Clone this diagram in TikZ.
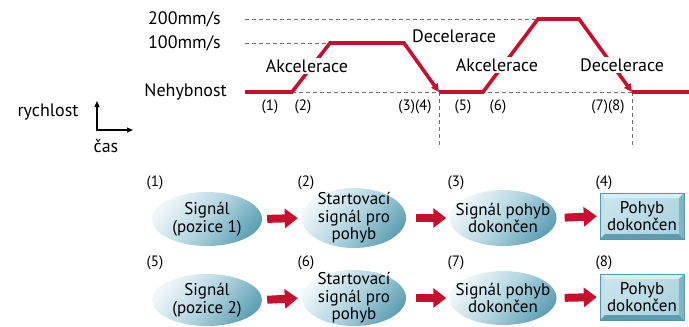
\documentclass[tikz,border=0pt]{standalone}
\usepackage{fontspec}
\setmainfont{PT Sans}
\usetikzlibrary{shapes.geometric,arrows.meta}
\definecolor{cred}{HTML}{C8102E}
\definecolor{cgray}{HTML}{707070}
\definecolor{elight}{HTML}{F0F7FA}
\definecolor{emid}{HTML}{B3D5E0}
\definecolor{edark}{HTML}{5FA1B5}
\definecolor{rface}{HTML}{ABD3DF}
\definecolor{rfacel}{HTML}{C9E4EC}
\definecolor{rtop}{HTML}{D9EDF3}
\definecolor{rleft}{HTML}{C2E0E9}
\definecolor{rbot}{HTML}{5D9DB1}
\definecolor{rright}{HTML}{7DB5C6}
\definecolor{rline}{HTML}{5A95A8}
\tikzset{
  guide/.style={cgray, line width=0.8pt, dash pattern=on 4pt off 3pt},
  speed/.style={cred, line width=3.6pt, line join=miter, -{Triangle[length=8pt,width=7.5pt]}},
  speedplain/.style={cred, line width=3.6pt, line join=miter},
  lbl/.style={fill=white, inner sep=1.5pt},
  num/.style={inner sep=1pt, font=\fontsize{15}{17}\selectfont},
  oval/.style={ellipse, inner sep=0pt, top color=elight, bottom color=edark, middle color=emid, shading angle=50},
  ovaltext/.style={align=center, inner sep=0pt, font=\fontsize{17}{17.5}\selectfont},
  rbox/.style={rectangle, inner sep=0pt, minimum width=84pt, minimum height=46pt, top color=rfacel, bottom color=rface, shading angle=40},
  blockarr/.style={cred, line width=8pt, -{Triangle[length=13pt,width=19pt]}},
  axisline/.style={black, line width=1.2pt},
}
\begin{document}
\begin{tikzpicture}[x=1pt,y=-1pt, font=\fontsize{18}{20}\selectfont]
\useasboundingbox (0,0) rectangle (689,327);

% key points of the speed profile
\coordinate (a0) at (245,92);
\coordinate (a1) at (292,92);
\coordinate (a2) at (330,43);
\coordinate (a3) at (404,43);
\coordinate (a4) at (439,92);
\coordinate (a5) at (483,92);
\coordinate (a6) at (538,19);
\coordinate (a7) at (579,19);
\coordinate (a8) at (632,92);
\coordinate (a9) at (689,92);
\coordinate (h2) at (245,19);
\coordinate (h1) at (245,43);
\coordinate (v4) at (439,148);
\coordinate (v8) at (632,148);

% guides
\draw[guide] (h2) -- (a6);
\draw[guide] (h1) -- (a2);
\draw[guide] (a1) -- (a8);
\draw[guide] (a4) -- (v4);
\draw[guide] (a8) -- (v8);

% speed profile
\draw[speed] (a0) -- (a1) -- (a2) -- (a3) -- (a4);
\draw[speed] (a4) -- (a5) -- (a6) -- (a7) -- (a8);
\draw[speedplain] (a8) -- (a9);

% labels on the profile
\node[lbl] (acc1) at (307,66) {Akcelerace};
\node[lbl] (dec1) at (454,36) {Decelerace};
\node[lbl] (acc2) at (497,65) {Akcelerace};
\node[lbl] (dec2) at (622,65) {Decelerace};
\node[anchor=east, inner sep=0pt] (v200) at (221,19) {200mm/s};
\node[anchor=east, inner sep=0pt] (v100) at (221,43) {100mm/s};
\node[anchor=east, inner sep=0pt] (v0) at (227,92) {Nehybnost};

\node[num] (t1) at (270,107) {(1)};
\node[num] (t2) at (303,107) {(2)};
\node[num] (t34) at (415,107) {(3)(4)};
\node[num] (t5) at (463,107) {(5)};
\node[num] (t6) at (498,107) {(6)};
\node[num] (t78) at (608,107) {(7)(8)};

% axes legend
\node (ry) at (48,112) {rychlost};
\node (cas) at (106,146) {čas};
\coordinate (o) at (97,130);
\coordinate (yt) at (97,101);
\coordinate (xt) at (133,130);
\draw[axisline, arrows={Triangle[length=6pt,width=5pt]-Triangle[length=6pt,width=5pt]}] (yt) -- (o) -- (xt);

% lower diagram: row 1
\node[oval, minimum width=110pt, minimum height=54pt] (e1) at (207,219) {};
\node[oval, minimum width=104pt, minimum height=60pt] (e2) at (354,218) {};
\node[oval, minimum width=107pt, minimum height=56pt] (e3) at (503,218) {};
\node[rbox] (r4) at (642,216) {};
% row 2
\node[oval, minimum width=110pt, minimum height=52pt] (e5) at (207,300) {};
\node[oval, minimum width=104pt, minimum height=56pt] (e6) at (354,298) {};
\node[oval, minimum width=107pt, minimum height=54pt] (e7) at (503,298) {};
\node[rbox] (r8) at (642,297) {};

% bevels of the rectangles
\foreach \r in {r4,r8}{
  \fill[rtop] (\r.north west) -- (\r.north east) -- ([shift={(-5,5)}]\r.north east) -- ([shift={(5,5)}]\r.north west) -- cycle;
  \fill[rleft] (\r.north west) -- (\r.south west) -- ([shift={(5,-5)}]\r.south west) -- ([shift={(5,5)}]\r.north west) -- cycle;
  \fill[rbot] (\r.south west) -- (\r.south east) -- ([shift={(-5,-5)}]\r.south east) -- ([shift={(5,-5)}]\r.south west) -- cycle;
  \fill[rright] (\r.north east) -- (\r.south east) -- ([shift={(-5,-5)}]\r.south east) -- ([shift={(-5,5)}]\r.north east) -- cycle;
  \draw[rline, line width=0.6pt] (\r.north west) rectangle (\r.south east);
}

% texts
\node[ovaltext] (e1t) at (e1) {Signál\\(pozice 1)};
\node[ovaltext] (e2t) at (e2) {Startovací\\signál pro\\pohyb};
\node[ovaltext] (e3t) at (e3) {Signál pohyb\\dokončen};
\node[ovaltext] (r4t) at (r4) {Pohyb\\dokončen};
\node[ovaltext] (e5t) at (e5) {Signál\\(pozice 2)};
\node[ovaltext] (e6t) at (e6) {Startovací\\signál pro\\pohyb};
\node[ovaltext] (e7t) at (e7) {Signál pohyb\\dokončen};
\node[ovaltext] (r8t) at (r8) {Pohyb\\dokončen};

% step numbers
\node[num] (n1) at (155,183) {(1)};
\node[num] (n2) at (306,183) {(2)};
\node[num] (n3) at (456,183) {(3)};
\node[num] (n4) at (604,183) {(4)};
\node[num] (n5) at (155,263) {(5)};
\node[num] (n6) at (306,263) {(6)};
\node[num] (n7) at (456,263) {(7)};
\node[num] (n8) at (604,263) {(8)};

% block arrows
\draw[blockarr, shorten <=5pt, shorten >=4pt] (e1.east) -- (e2.west);
\draw[blockarr, shorten <=10pt, shorten >=3pt] (e2.east) -- (e3.west);
\draw[blockarr, shorten <=8pt, shorten >=3pt] (e3.east) -- (r4.west);
\draw[blockarr, shorten <=5pt, shorten >=4pt] (e5.east) -- (e6.west);
\draw[blockarr, shorten <=10pt, shorten >=3pt] (e6.east) -- (e7.west);
\draw[blockarr, shorten <=8pt, shorten >=3pt] (e7.east) -- (r8.west);
\end{tikzpicture}
\end{document}
